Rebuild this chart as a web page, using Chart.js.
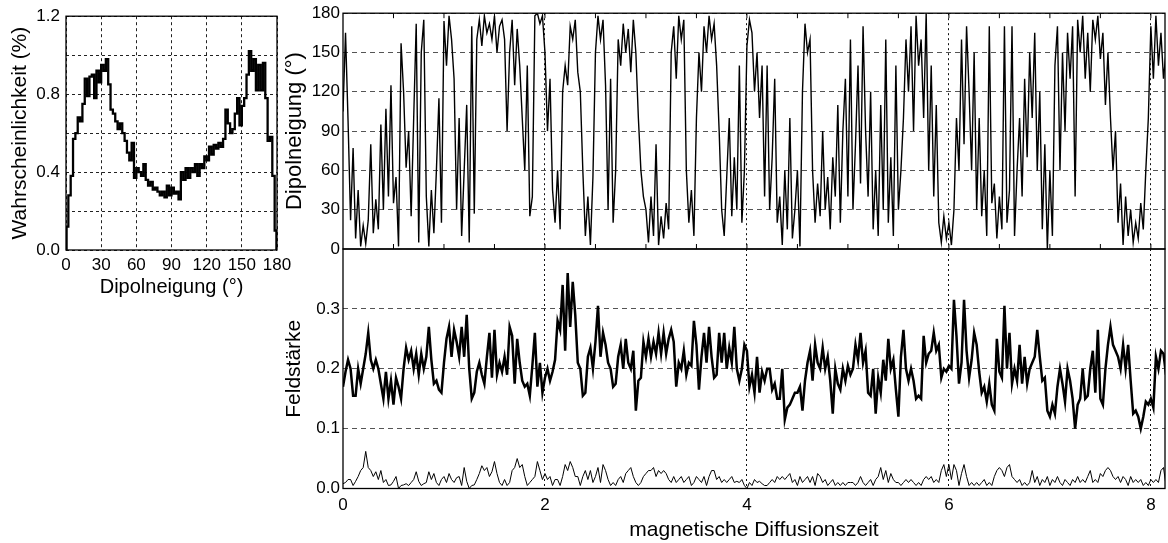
<!DOCTYPE html>
<html lang="de">
<head>
  <meta charset="UTF-8" />
  <title>Dipolneigung und Feldstärke</title>
  <script src="https://cdn.jsdelivr.net/npm/chart.js"></script>
  <style>
    body {
      margin: 0;
      background: #fff;
      width: 1168px;
      height: 543px;
      position: relative;
      overflow: hidden;
    }
    canvas {
      position: absolute;
    }
    #hist { left: 0; top: 0; }
    #neigungChart { left: 270px; top: 0; }
    #feldChart { left: 270px; top: 230px; }
  </style>
</head>
<body>
  <canvas id="hist" width="300" height="300"></canvas>
  <canvas id="neigungChart" width="898" height="270"></canvas>
  <canvas id="feldChart" width="898" height="313"></canvas>

  <script>
    // --- Daten ---

    // Histogramm: 2°-Klassen von 0° bis 180°
    const histBreite = 2;
    const wahrscheinlichkeit = [
      0.12, 0.28, 0.38, 0.57, 0.60, 0.68, 0.66, 0.75, 0.88, 0.79,
      0.89, 0.90, 0.78, 0.92, 0.86, 0.95, 0.92, 0.98, 0.85, 0.72,
      0.70, 0.66, 0.62, 0.65, 0.60, 0.56, 0.50, 0.46, 0.55, 0.37,
      0.42, 0.40, 0.38, 0.44, 0.36, 0.33, 0.35, 0.31, 0.32, 0.30,
      0.28, 0.30, 0.27, 0.33, 0.28, 0.32, 0.29, 0.30, 0.26, 0.40,
      0.36, 0.42, 0.37, 0.42, 0.40, 0.44, 0.38, 0.44, 0.42, 0.48,
      0.46, 0.53, 0.49, 0.54, 0.52, 0.55, 0.53, 0.57, 0.72, 0.65,
      0.60, 0.62, 0.70, 0.78, 0.64, 0.74, 0.78, 0.90, 1.02, 0.92,
      0.98, 0.82, 0.95, 0.82, 0.96, 0.78, 0.56, 0.58, 0.38, 0.10
    ];

    // Zeitreihen: ein Wert je 0.025 Diffusionszeiten
    const zeitSchritt = 0.025;

    const dipolneigung = [
      105,165,98,22,77,8,45,2,18,4,22,80,12,38,15,95,30,107,40,125,
      35,55,2,157,120,62,90,25,100,172,5,150,175,40,2,45,12,60,115,20,
      174,140,178,160,130,30,100,10,60,110,5,170,27,160,175,155,178,165,172,160,
      178,150,170,175,160,90,150,175,125,168,140,100,60,140,25,40,178,180,172,178,
      150,90,130,45,20,60,15,120,140,125,170,160,175,135,120,60,10,40,3,55,
      150,178,160,175,125,30,130,20,60,160,140,172,150,168,135,175,150,100,60,40,
      30,5,40,10,80,3,25,8,35,15,150,170,130,178,160,175,60,20,45,10,
      100,150,120,170,150,178,160,172,140,90,30,10,55,100,25,70,30,140,20,60,
      155,175,165,120,150,100,140,40,140,30,70,130,20,40,3,60,15,100,8,30,
      60,2,120,172,150,160,60,20,50,25,90,30,55,15,70,40,110,20,90,130,
      40,160,30,80,140,50,170,90,40,120,15,60,10,110,30,160,20,70,10,140,
      30,60,100,160,120,170,90,178,140,160,100,180,60,140,40,110,20,5,25,8,
      20,3,30,100,60,160,80,170,120,60,150,30,100,25,60,10,170,35,50,8,
      40,15,170,20,45,170,10,60,100,40,130,70,150,100,165,60,120,15,80,0,
      60,10,140,170,60,150,90,165,130,170,40,175,150,178,130,165,120,175,160,178,
      145,165,110,150,100,60,90,20,50,3,40,10,30,5,20,8,35,15,60,100,
      170,130,178,140,165,130,150
    ];

    const feldstaerke = [
      0.17,0.195,0.215,0.2,0.155,0.155,0.2,0.175,0.2,0.225,0.26,0.215,0.2,0.215,0.2,0.175,0.15,0.195,0.15,0.18,
      0.14,0.185,0.17,0.15,0.2,0.235,0.215,0.23,0.2,0.225,0.19,0.225,0.2,0.22,0.27,0.215,0.175,0.18,0.165,0.16,
      0.21,0.25,0.27,0.22,0.265,0.245,0.22,0.27,0.22,0.29,0.2,0.15,0.16,0.195,0.21,0.19,0.175,0.22,0.26,0.185,
      0.265,0.19,0.21,0.195,0.22,0.19,0.27,0.255,0.175,0.25,0.21,0.18,0.17,0.175,0.155,0.205,0.26,0.17,0.21,0.16,
      0.185,0.2,0.18,0.195,0.215,0.28,0.265,0.34,0.23,0.36,0.27,0.345,0.29,0.21,0.2,0.155,0.16,0.22,0.235,0.2,
      0.245,0.305,0.22,0.26,0.24,0.21,0.2,0.17,0.175,0.22,0.24,0.2,0.25,0.21,0.2,0.23,0.13,0.18,0.185,0.245,
      0.22,0.25,0.22,0.245,0.225,0.26,0.225,0.26,0.225,0.25,0.265,0.245,0.17,0.21,0.2,0.23,0.19,0.21,0.205,0.28,
      0.24,0.165,0.22,0.26,0.21,0.27,0.22,0.185,0.19,0.26,0.21,0.26,0.2,0.235,0.21,0.27,0.2,0.18,0.2,0.24,
      0.23,0.17,0.19,0.16,0.22,0.16,0.195,0.18,0.2,0.2,0.165,0.175,0.15,0.15,0.2,0.115,0.135,0.14,0.15,0.16,
      0.16,0.17,0.13,0.18,0.21,0.23,0.18,0.24,0.21,0.2,0.235,0.2,0.22,0.18,0.125,0.2,0.175,0.165,0.2,0.18,
      0.205,0.19,0.2,0.24,0.215,0.26,0.21,0.23,0.16,0.155,0.2,0.125,0.185,0.16,0.215,0.18,0.25,0.2,0.215,0.165,
      0.12,0.22,0.265,0.2,0.18,0.2,0.18,0.15,0.155,0.15,0.255,0.21,0.225,0.23,0.26,0.23,0.24,0.185,0.2,0.195,
      0.205,0.2,0.315,0.255,0.175,0.21,0.315,0.23,0.185,0.215,0.26,0.24,0.195,0.16,0.17,0.145,0.175,0.14,0.13,0.25,
      0.195,0.185,0.305,0.2,0.26,0.175,0.2,0.18,0.24,0.175,0.22,0.175,0.2,0.21,0.22,0.265,0.22,0.18,0.185,0.13,
      0.12,0.14,0.125,0.17,0.2,0.175,0.145,0.2,0.18,0.15,0.1,0.14,0.15,0.2,0.15,0.155,0.2,0.23,0.16,0.265,
      0.15,0.14,0.2,0.24,0.27,0.24,0.23,0.22,0.2,0.24,0.2,0.24,0.18,0.125,0.13,0.12,0.1,0.12,0.145,0.14,
      0.15,0.135,0.22,0.2,0.23,0.225,0.19
    ];

    const restfeld = [
      0.008,0.01,0.015,0.015,0.005,0.012,0.02,0.03,0.035,0.062,0.035,0.03,0.02,0.028,0.015,0.03,0.01,0.015,0.005,0.006,
      0.012,0.02,0.0,0.005,0.006,0.008,0.005,0.01,0.015,0.028,0.012,0.005,0.008,0.01,0.028,0.015,0.025,0.01,0.005,0.015,
      0.02,0.01,0.025,0.015,0.01,0.018,0.02,0.005,0.035,0.012,0.0,0.005,0.006,0.015,0.025,0.038,0.03,0.035,0.02,0.028,
      0.045,0.025,0.01,0.005,0.015,0.005,0.01,0.03,0.035,0.05,0.035,0.04,0.02,0.005,0.01,0.015,0.02,0.045,0.03,0.015,
      0.025,0.015,0.02,0.005,0.015,0.015,0.005,0.02,0.04,0.03,0.045,0.035,0.02,0.02,0.005,0.02,0.03,0.015,0.03,0.01,
      0.02,0.035,0.01,0.04,0.03,0.015,0.005,0.01,0.005,0.015,0.02,0.01,0.025,0.03,0.035,0.02,0.01,0.005,0.01,0.02,
      0.025,0.03,0.03,0.035,0.02,0.03,0.025,0.03,0.025,0.015,0.01,0.02,0.01,0.015,0.02,0.01,0.015,0.02,0.005,0.01,
      0.02,0.015,0.01,0.02,0.005,0.02,0.03,0.03,0.015,0.02,0.01,0.015,0.01,0.015,0.02,0.01,0.012,0.01,0.015,0.005,
      0.0,0.01,0.005,0.015,0.01,0.012,0.008,0.005,0.005,0.01,0.015,0.01,0.02,0.015,0.02,0.015,0.02,0.025,0.01,0.015,
      0.005,0.02,0.01,0.015,0.02,0.01,0.02,0.005,0.025,0.02,0.01,0.015,0.005,0.01,0.015,0.005,0.01,0.005,0.01,0.005,
      0.01,0.01,0.01,0.005,0.01,0.02,0.01,0.005,0.01,0.015,0.005,0.015,0.02,0.035,0.015,0.03,0.01,0.025,0.015,0.01,
      0.01,0.005,0.01,0.015,0.01,0.015,0.01,0.005,0.01,0.005,0.015,0.02,0.015,0.02,0.01,0.015,0.01,0.03,0.04,0.02,
      0.04,0.015,0.04,0.03,0.005,0.025,0.04,0.02,0.005,0.01,0.005,0.01,0.005,0.01,0.015,0.005,0.01,0.005,0.02,0.03,
      0.035,0.03,0.02,0.035,0.04,0.02,0.015,0.01,0.015,0.005,0.01,0.005,0.01,0.03,0.01,0.02,0.005,0.015,0.01,0.02,
      0.005,0.015,0.01,0.02,0.01,0.005,0.015,0.01,0.005,0.015,0.01,0.02,0.01,0.015,0.01,0.02,0.03,0.01,0.015,0.01,
      0.025,0.02,0.03,0.035,0.03,0.02,0.015,0.02,0.01,0.02,0.015,0.005,0.02,0.01,0.015,0.01,0.015,0.005,0.01,0.005,
      0.015,0.01,0.015,0.01,0.03,0.035,0.005
    ];

    // --- Darstellung ---
    Chart.defaults.font.family = "'Liberation Sans', Arial, sans-serif";
    Chart.defaults.color = '#000';
    Chart.defaults.animation = false;

    // Kasten um die Zeichenfläche + kleine Zwischenstriche
    const rahmen = {
      id: 'rahmen',
      afterDraw(chart, args, opts) {
        const { ctx, chartArea: a } = chart;
        ctx.save();
        ctx.setLineDash([]);
        ctx.strokeStyle = '#000';
        ctx.lineWidth = 1.3;
        ctx.strokeRect(a.left, a.top, a.right - a.left, a.bottom - a.top);
        if (opts.nebenStriche) {
          const x = chart.scales.x;
          ctx.lineWidth = 1;
          ctx.beginPath();
          for (let t = opts.nebenStriche; t < x.max; t += opts.nebenStriche) {
            const px = x.getPixelForValue(t);
            ctx.moveTo(px, a.bottom);
            ctx.lineTo(px, a.bottom - 5);
            ctx.moveTo(px, a.top);
            ctx.lineTo(px, a.top + 5);
          }
          ctx.stroke();
        }
        ctx.restore();
      }
    };

    const zeitPunkte = werte => werte.map((v, i) => ({ x: i * zeitSchritt, y: v }));

    const histPunkte = [{ x: 0, y: 0 }]
      .concat(wahrscheinlichkeit.map((v, i) => ({ x: histBreite * (i + 0.5), y: v })))
      .concat([{ x: 180, y: 0 }]);

    const ohneExtras = {
      legend: { display: false },
      tooltip: { enabled: false }
    };

    // Histogramm links
    new Chart(document.getElementById('hist'), {
      type: 'line',
      data: {
        datasets: [{
          data: histPunkte,
          borderColor: '#000',
          borderWidth: 2.3,
          pointRadius: 0,
          stepped: 'middle'
        }]
      },
      plugins: [rahmen],
      options: {
        responsive: false,
        layout: { padding: { top: 13, right: 23, bottom: 0, left: 0 } },
        plugins: { ...ohneExtras, rahmen: {} },
        scales: {
          x: {
            type: 'linear', min: 0, max: 180,
            afterFit: s => { s.height = 50; },
            ticks: { stepSize: 30, font: { size: 17 }, padding: 5, maxRotation: 0 },
            grid: { color: '#222', drawTicks: false },
            border: { display: false, dash: [3, 3] },
            title: { display: true, text: 'Dipolneigung (°)', font: { size: 20 }, padding: { top: 0, bottom: 1 } }
          },
          y: {
            min: 0, max: 1.2,
            afterFit: s => { s.width = 66; },
            ticks: {
              stepSize: 0.2, font: { size: 17 }, padding: 6,
              callback: v => (Math.round(v * 10) % 4 === 0 ? v.toFixed(1) : '')
            },
            grid: { color: '#222', drawTicks: false },
            border: { display: false, dash: [3, 3] },
            title: { display: true, text: 'Wahrscheinlichkeit (%)', font: { size: 21 }, padding: { top: 8, bottom: 0 } }
          }
        }
      }
    });

    // Dipolneigung über der Zeit
    new Chart(document.getElementById('neigungChart'), {
      type: 'line',
      data: {
        datasets: [{
          data: zeitPunkte(dipolneigung),
          borderColor: '#000',
          borderWidth: 1.4,
          pointRadius: 0
        }]
      },
      plugins: [rahmen],
      options: {
        responsive: false,
        layout: { padding: { top: 12.5, right: 3, bottom: 21, left: 0 } },
        plugins: { ...ohneExtras, rahmen: { nebenStriche: 0.5 } },
        scales: {
          x: {
            type: 'linear', min: 0, max: 8.14,
            afterFit: s => { s.height = 0; },
            ticks: { display: false, stepSize: 2, includeBounds: false },
            grid: { color: c => (c.tick && c.tick.value > 0 ? '#111' : 'transparent'), drawTicks: false },
            border: { display: false, dash: [2, 3] }
          },
          y: {
            min: 0, max: 180,
            afterFit: s => { s.width = 73; },
            ticks: { stepSize: 30, font: { size: 17 }, padding: 3 },
            grid: { color: '#555', drawTicks: false },
            border: { display: false, dash: [5, 4] },
            title: { display: true, text: 'Dipolneigung (°)', font: { size: 22 }, padding: { top: 12, bottom: 0 } }
          }
        }
      }
    });

    // Feldstärke über der Zeit
    new Chart(document.getElementById('feldChart'), {
      type: 'line',
      data: {
        datasets: [
          {
            data: zeitPunkte(feldstaerke),
            borderColor: '#000',
            borderWidth: 2.5,
            pointRadius: 0
          },
          {
            data: zeitPunkte(restfeld),
            borderColor: '#000',
            borderWidth: 1,
            pointRadius: 0
          }
        ]
      },
      plugins: [rahmen],
      options: {
        responsive: false,
        layout: { padding: { top: 19, right: 3, bottom: 0, left: 0 } },
        plugins: { ...ohneExtras, rahmen: {} },
        scales: {
          x: {
            type: 'linear', min: 0, max: 8.14,
            afterFit: s => { s.height = 54.5; },
            ticks: { stepSize: 2, includeBounds: false, font: { size: 17 }, padding: 7, maxRotation: 0 },
            grid: { color: c => (c.tick && c.tick.value > 0 ? '#111' : 'transparent'), drawTicks: false },
            border: { display: false, dash: [2, 3] },
            title: { display: true, text: 'magnetische Diffusionszeit', font: { size: 21 }, padding: { top: 0, bottom: 0 } }
          },
          y: {
            min: 0, max: 0.4,
            afterFit: s => { s.width = 73; },
            ticks: {
              stepSize: 0.1, font: { size: 17 }, padding: 3,
              callback: v => (Math.round(v * 10) < 4 ? v.toFixed(1) : '')
            },
            grid: { color: '#555', drawTicks: false },
            border: { display: false, dash: [5, 4] },
            title: { display: true, text: 'Feldstärke', font: { size: 21 }, padding: { top: 12, bottom: 0 } }
          }
        }
      }
    });
  </script>
</body>
</html>
